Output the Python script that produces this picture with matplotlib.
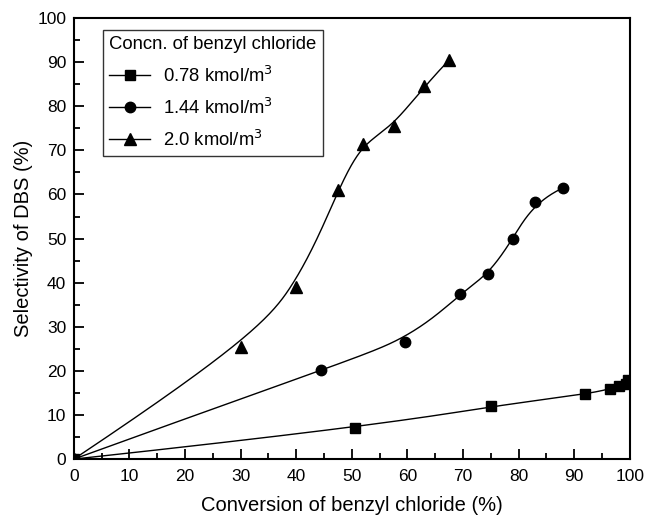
import numpy as np
import matplotlib
matplotlib.use("Agg")
import matplotlib.pyplot as plt
from matplotlib.ticker import MultipleLocator

plt.rcParams['font.family'] = ['Liberation Sans', 'DejaVu Sans']

# data
x_sq = [0, 50.5, 75, 92, 96.5, 98, 99.3, 99.7]
y_sq = [0, 7.0, 12.0, 14.7, 16.0, 16.5, 17.0, 18.0]

x_ci = [0, 44.5, 59.5, 69.5, 74.5, 79, 83, 88]
y_ci = [0, 20.3, 26.5, 37.5, 42.0, 50.0, 58.3, 61.5]

x_tr = [0, 30, 40, 47.5, 52, 57.5, 63, 67.5]
y_tr = [0, 25.5, 39.0, 61.0, 71.5, 75.5, 84.5, 90.5]

labels = ["0.78 kmol/m$^3$", "1.44 kmol/m$^3$", "2.0 kmol/m$^3$"]


def bspline(x, y, n=500, k=3, lam=0.3):
    # clamped cubic B-spline, data points (slightly pushed out) as control points
    P = np.column_stack([x, y]).astype(float)
    Q = P.copy()
    Q[1:-1] = P[1:-1] + lam * (P[1:-1] - (P[:-2] + 4 * P[1:-1] + P[2:]) / 6)
    m = len(Q)
    knots = np.concatenate([np.zeros(k), np.arange(m - k + 1), np.full(k, m - k)]).astype(float)
    u = np.linspace(0, m - k, n)
    u[-1] -= 1e-9
    # Cox-de Boor recursion
    N = np.zeros((n, len(knots) - 1))
    for i in range(len(knots) - 1):
        N[:, i] = (u >= knots[i]) & (u < knots[i + 1])
    for p in range(1, k + 1):
        Nn = np.zeros((n, len(knots) - 1 - p))
        for i in range(len(knots) - 1 - p):
            a = knots[i + p] - knots[i]
            b = knots[i + p + 1] - knots[i + 1]
            t1 = (u - knots[i]) / a * N[:, i] if a > 0 else 0
            t2 = (knots[i + p + 1] - u) / b * N[:, i + 1] if b > 0 else 0
            Nn[:, i] = t1 + t2
        N = Nn
    C = N @ Q
    return C[:, 0], C[:, 1]


fig = plt.figure(figsize=(6.48, 5.17), dpi=100)
ax = fig.add_axes([0.114, 0.112, 0.858, 0.853])

series = [(x_sq, y_sq, 's', 7), (x_ci, y_ci, 'o', 7.5), (x_tr, y_tr, '^', 8)]
for (xx, yy, mk, ms), lab in zip(series, labels):
    xs, ys = bspline(xx, yy)
    ax.plot(xs, ys, color='black', lw=1.0)
    ax.plot(xx, yy, ls='none', marker=mk, ms=ms, color='black')
    ax.plot([], [], color='black', lw=1.0, marker=mk, ms=ms, label=lab)

ax.set_xlim(0, 100)
ax.set_ylim(0, 100)
ax.xaxis.set_major_locator(MultipleLocator(10))
ax.xaxis.set_minor_locator(MultipleLocator(5))
ax.yaxis.set_major_locator(MultipleLocator(10))
ax.yaxis.set_minor_locator(MultipleLocator(5))
ax.tick_params(which='both', direction='in', top=False, right=False, labelsize=12.5)
ax.tick_params(which='major', length=7, width=1.3)
ax.tick_params(which='minor', length=4.3, width=1.3)
ax.tick_params(axis='x', which='major', pad=7)
ax.tick_params(axis='y', which='major', pad=5.5)
for s in ax.spines.values():
    s.set_linewidth(1.5)

ax.set_xlabel("Conversion of benzyl chloride (%)", fontsize=14.5, labelpad=9)
ax.set_ylabel("Selectivity of DBS (%)", fontsize=14.5, labelpad=3)

leg = ax.legend(title="Concn. of benzyl chloride", loc='upper left',
                bbox_to_anchor=(0.052, 0.973), borderaxespad=0, fontsize=13.3,
                title_fontsize=13.3, frameon=True, fancybox=False,
                edgecolor='black', handlelength=2.2, borderpad=0.35,
                labelspacing=0.65, handletextpad=0.7)
leg.get_frame().set_linewidth(1.0)
leg._legend_box.align = "left"

fig.savefig("out.png", dpi=100)
